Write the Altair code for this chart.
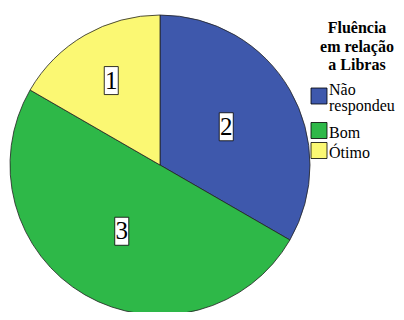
import altair as alt
import pandas as pd

categories = ["Não respondeu", "Bom", "Ótimo"]
counts = [2, 3, 1]
colors = ["#3E58AC", "#2EB848", "#FBF873"]
legend_title = "Fluência\nem relação\na Libras"

df = pd.DataFrame({"cat": categories, "n": counts, "ord": list(range(len(categories)))})

CX, CY, R = 152, 157, 150
SERIF = "Liberation Serif"
color_scale = alt.Scale(domain=categories, range=colors)

base = alt.Chart(df).transform_joinaggregate(
    total="sum(n)"
).transform_window(
    cum="sum(n)", sort=[alt.SortField("ord")], frame=[None, 0]
).transform_calculate(
    mid="(datum.cum - datum.n/2) / datum.total * 2 * PI",
    frac="datum.n / datum.total",
).transform_calculate(
    lr=f"datum.frac < 0.25 ? {R}*0.65 : {R}*0.51"
).transform_calculate(
    lx=f"{CX} + datum.lr * sin(datum.mid)",
    ly=f"{CY} - datum.lr * cos(datum.mid)",
).transform_calculate(
    bx1="datum.lx - 7", bx2="datum.lx + 7",
    by1="datum.ly - 14", by2="datum.ly + 14",
)

pie = alt.Chart(df).mark_arc(radius=R, stroke="#222222", strokeWidth=0.8).encode(
    theta=alt.Theta("n:Q", stack=True),
    order=alt.Order("ord:Q"),
    color=alt.Color("cat:N", scale=color_scale, legend=None),
    x=alt.value(CX),
    y=alt.value(CY),
)

boxes = base.mark_rect(fill="white", stroke="#000000", strokeWidth=0.8).encode(
    x=alt.X("bx1:Q", scale=None),
    x2="bx2:Q",
    y=alt.Y("by1:Q", scale=None),
    y2="by2:Q",
)

labels = base.mark_text(font=SERIF, fontSize=25, baseline="middle", align="center", color="#000000").encode(
    x=alt.X("lx:Q", scale=None),
    y=alt.Y("ly:Q", scale=None),
    text=alt.Text("n:Q"),
)

# legend drawn by hand (title + entries)
LEG_FS, LEG_LH = 16, 16
leg = alt.Chart(df).transform_calculate(
    lines="split(datum.cat, ' ')",
).transform_calculate(
    nl="length(datum.lines)",
    sy="88 + datum.ord * 20 + (datum.ord > 0 ? 14.5 : 0)",
).transform_calculate(
    sy1="datum.sy - 8", sy2="datum.sy + 8",
    ty=f"datum.sy + 0.45 * {LEG_FS} - (datum.nl - 1) * {LEG_LH} / 2",
)

leg_sym = leg.mark_rect(stroke="#000000", strokeWidth=0.8).encode(
    x=alt.value(303), x2=alt.value(319),
    y=alt.Y("sy1:Q", scale=None), y2="sy2:Q",
    color=alt.Color("cat:N", scale=color_scale, legend=None),
)

leg_txt = leg.mark_text(
    font=SERIF, fontSize=LEG_FS, lineHeight=LEG_LH, align="left", baseline="alphabetic", color="#000000",
).encode(
    x=alt.value(321),
    y=alt.Y("ty:Q", scale=None),
    text=alt.Text("lines:N"),
)

title = alt.Chart(df).mark_text(
    font=SERIF, fontSize=16, fontWeight="bold", align="center", baseline="alphabetic",
    lineBreak="\n", lineHeight=18.5, color="#000000",
).encode(
    x=alt.value(349), y=alt.value(25), text=alt.value(legend_title)
).transform_filter("datum.ord == 0")

chart = alt.layer(pie, boxes, labels, title, leg_sym, leg_txt).properties(
    width=388, height=304,
    autosize=alt.AutoSizeParams(type="none"),
    padding=0,
).configure(background="white").configure_view(stroke=None)

chart.save("out.html", embed_options={"renderer": "svg", "actions": False})
